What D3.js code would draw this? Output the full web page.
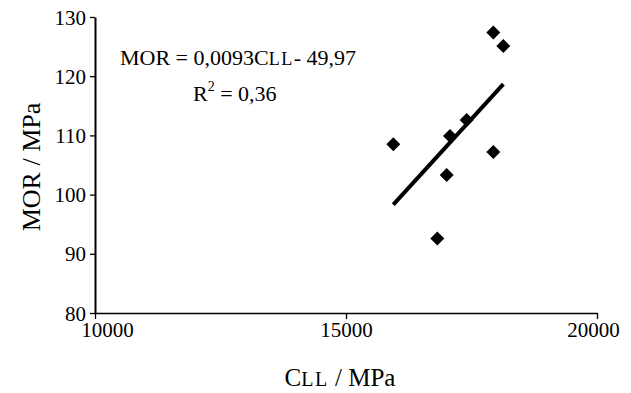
<!DOCTYPE html>
<html><head><meta charset="utf-8">
<script src="https://cdn.jsdelivr.net/npm/d3@7"></script>
<style>
body{margin:0;background:#fff;}
svg{display:block;font-family:"Liberation Serif","Times New Roman",serif;}
</style></head>
<body><svg id="c" width="631" height="393"></svg>
<script>
const cll = [17934, 18134, 15942, 17072, 17404, 17934, 17006, 16819];
const mor = [127.4, 125.1, 108.5, 109.9, 112.6, 107.2, 103.3, 92.6];
const xTicks = [10000, 15000, 20000];
const yTicks = [80, 90, 100, 110, 120, 130];
const slope = 0.0093, intercept = -49.97;

const svg = d3.select("#c");
const x = d3.scaleLinear().domain([10000, 20000]).range([95, 597]);
const y = d3.scaleLinear().domain([80, 130]).range([313, 17]);

// y axis
const ya = svg.append("g").attr("transform","translate(95,0)")
  .call(d3.axisLeft(y).tickValues(yTicks).tickSize(5).tickSizeOuter(0).tickPadding(4));
ya.select(".domain").attr("stroke","#000").attr("stroke-width",2);
ya.selectAll(".tick line").attr("stroke","#000").attr("stroke-width",1.3);
ya.selectAll(".tick text").attr("font-size",21).attr("font-family","Liberation Serif").attr("fill","#000").attr("dy","0.34em");

// x axis
const xa = svg.append("g").attr("transform","translate(0,313)")
  .call(d3.axisBottom(x).tickValues(xTicks).tickSize(6).tickSizeOuter(0).tickPadding(3).tickFormat(d3.format("d")));
xa.select(".domain").attr("stroke","#000").attr("stroke-width",1.5);
xa.selectAll(".tick line").attr("stroke","#000").attr("stroke-width",1.3);
xa.selectAll(".tick text").attr("font-size",21).attr("font-family","Liberation Serif").attr("fill","#000")
  .attr("dx",(d,i)=> i===0 ? 12 : (i===xTicks.length-1 ? -4 : 0));

// trend line
const xmin = d3.min(cll), xmax = d3.max(cll);
svg.append("line")
  .attr("x1",x(xmin)).attr("y1",y(slope*xmin+intercept))
  .attr("x2",x(xmax)).attr("y2",y(slope*xmax+intercept))
  .attr("stroke","#000").attr("stroke-width",4);

// points
const sym = d3.symbol().type(d3.symbolSquare).size(98);
svg.append("g").selectAll("path").data(cll).join("path")
  .attr("d", sym)
  .attr("transform",(d,i)=>`translate(${x(d)},${y(mor[i])}) rotate(45)`)
  .attr("fill","#000");

// equation
const eq = svg.append("text").attr("x",120).attr("y",65).attr("font-size",22).attr("fill","#000");
eq.append("tspan").text("MOR = 0,0093C");
eq.append("tspan").attr("font-size",18).attr("letter-spacing",1.5).text("LL");
eq.append("tspan").text("- 49,97");
const r2 = svg.append("text").attr("x",193).attr("y",101).attr("font-size",22).attr("fill","#000");
r2.append("tspan").text("R");
r2.append("tspan").attr("font-size",14).attr("dy",-10).text("2");
r2.append("tspan").attr("dy",10).text(" = 0,36");

// axis titles
const xt = svg.append("text").attr("x",340).attr("y",386).attr("text-anchor","middle").attr("font-size",25).attr("fill","#000");
xt.append("tspan").text("C");
xt.append("tspan").attr("font-size",20).attr("letter-spacing",1.5).text("LL");
xt.append("tspan").text(" / MPa");
svg.append("text").attr("transform","translate(40,167) rotate(-90)").attr("text-anchor","middle")
  .attr("font-size",26).attr("fill","#000").text("MOR / MPa");
</script></body></html>
